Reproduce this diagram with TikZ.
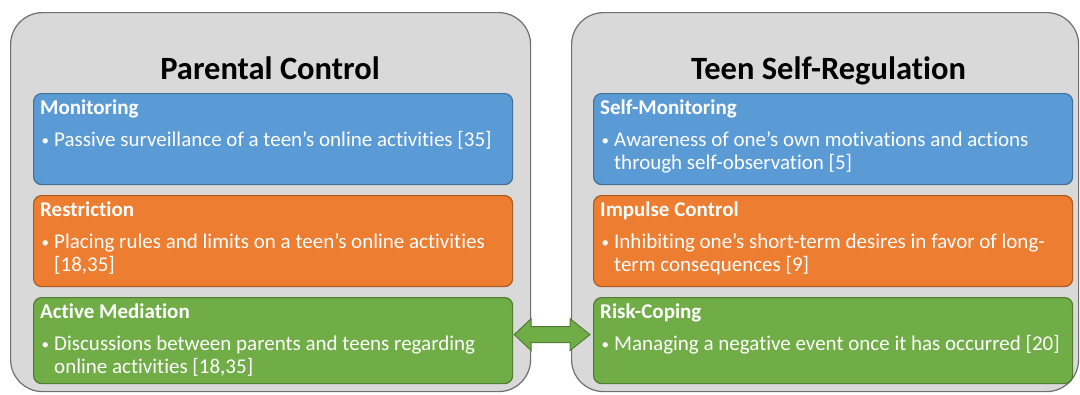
\documentclass[tikz,border=0pt]{standalone}
\usepackage{fontspec}
\setmainfont{Carlito}[Ligatures=NoCommon]
\usetikzlibrary{positioning,calc}

\definecolor{panelfill}{HTML}{D9D9D9}
\definecolor{panelline}{HTML}{6F6F6F}
\definecolor{monblue}{HTML}{5B9BD5}
\definecolor{resorange}{HTML}{ED7D31}
\definecolor{medgreen}{HTML}{70AD47}

\tikzset{
  panel/.style={draw=panelline, fill=panelfill, line width=1.2pt, rounded corners=32pt,
    anchor=north west, minimum height=379pt, inner sep=0pt},
  paneltitle/.style={anchor=base, inner sep=0pt, font=\fontsize{32.5}{38}\selectfont\bfseries},
  catbox/.style={draw=#1!72!black, fill=#1, line width=1.2pt, rounded corners=8pt,
    anchor=north west, minimum width=479pt, minimum height=91pt, inner sep=0pt},
  cattext/.style={anchor=north west, inner sep=0pt, align=left, text=white,
    font=\fontsize{21}{23}\selectfont},
  link/.style={draw=medgreen!72!black, fill=medgreen, line width=1pt, line join=miter}
}
\newcommand{\cathead}[1]{\strut\textbf{#1}\\[9pt]}
\newcommand{\catitem}{\hspace{1.5pt}\raisebox{1.6pt}{\fontsize{15}{15}\selectfont\textbullet}\hspace{5pt}}
\newcommand{\catnext}{\\\hspace*{14pt}}

\begin{document}
\begin{tikzpicture}[x=1pt,y=-1pt]
    \useasboundingbox (0,0) rectangle (1080,394);
    % Panels
    \node[panel, minimum width=520pt] (parent) at (10,12) {};
    \node[panel, minimum width=507pt] (teen) at (571,12) {};
    % Titles
    \node[paneltitle] (parentT) at (270,79) {Parental Control};
    \node[paneltitle] (teenT) at (828.5,79) {Teen Self-Regulation};
    % Parental control boxes
    \node[catbox=monblue] (mon) at (33,93) {};
    \node[catbox=resorange] (res) at (33,195) {};
    \node[catbox=medgreen, minimum height=86pt] (med) at (33,297) {};
    % Teen self-regulation boxes
    \node[catbox=monblue] (smon) at (593,93) {};
    \node[catbox=resorange] (imp) at (593,195) {};
    \node[catbox=medgreen, minimum height=86pt] (risk) at (593,297) {};
    % Box texts
    \node[cattext] at ([shift={(7,5.4)}]mon.north west)
      {\cathead{Monitoring}\catitem Passive surveillance of a teen’s online activities [35]};
    \node[cattext] at ([shift={(7,5.4)}]res.north west)
      {\cathead{Restriction}\catitem Placing rules and limits on a teen’s online activities\catnext [18,35]};
    \node[cattext] at ([shift={(7,5.4)}]med.north west)
      {\cathead{Active Mediation}\catitem Discussions between parents and teens regarding\catnext online activities [18,35]};
    \node[cattext] at ([shift={(7,5.4)}]smon.north west)
      {\cathead{Self-Monitoring}\catitem Awareness of one’s own motivations and actions\catnext through self-observation [5]};
    \node[cattext] at ([shift={(7,5.4)}]imp.north west)
      {\cathead{Impulse Control}\catitem Inhibiting one’s short-term desires in favor of long-\catnext term consequences [9]};
    \node[cattext] at ([shift={(7,5.4)}]risk.north west)
      {\cathead{Risk-Coping}\catitem Managing a negative event once it has occurred [20]};
    % Two-way arrow
    \coordinate (L) at ([shift={(1,-6)}]med.east);
    \coordinate (R) at ([shift={(-3,-6)}]risk.west);
    \draw[link] (L) -- ++(17,-16) -- ++(0,8) -- ([shift={(-20,-8)}]R) -- ++(0,-8) -- (R)
      -- ++(-20,16) -- ++(0,-8) -- ([shift={(17,8)}]L) -- ++(0,8) -- cycle;
\end{tikzpicture}
\end{document}
